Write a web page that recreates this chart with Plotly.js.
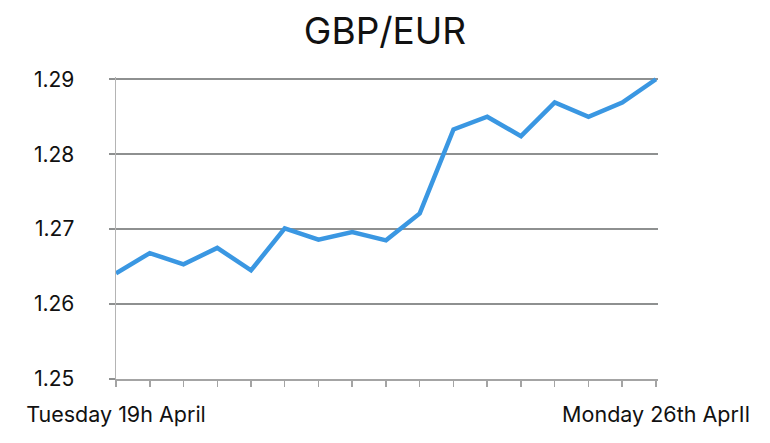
<!DOCTYPE html>
<html>
<head>
<meta charset="utf-8">
<script src="https://cdn.plot.ly/plotly-3.0.1.min.js"></script>
<style>
  html, body { margin: 0; padding: 0; background: #fff; }
  #chart { width: 770px; height: 443px; }
</style>
</head>
<body>
<div id="chart"></div>
<script>
// GBP/EUR rate, one reading per tick
var idx = [0,1,2,3,4,5,6,7,8,9,10,11,12,13,14,15,16]
var rate = [1.2641,1.2668,1.2653,1.2675,1.2645,1.2701,1.2686,1.2696,1.2685,1.2721,
            1.2833,1.2850,1.2824,1.2869,1.2850,1.2869,1.2900]
// only the end ticks carry a label
var tickLabels = ['Tuesday 19h April','','','','','','','','','','','','','','','','Monday 26th AprIl']
var yTicks = [1.25,1.26,1.27,1.28,1.29]

var line = {
    x: idx,
    y: rate,
    mode: 'lines',
    line: { color: '#3a97e2', width: 4.5 },
    showlegend: false,
    hoverinfo: 'skip'
}

var layout = {
    width: 770,
    height: 443,
    paper_bgcolor: '#ffffff',
    plot_bgcolor: '#ffffff',
    margin: { l: 116, r: 112, t: 77, b: 64 },
    font: { family: 'Inter, Roboto, "Liberation Sans", sans-serif', color: '#111111' },
    title: {
        text: 'GBP/EUR',
        font: { size: 37, family: 'Inter, Roboto, sans-serif', color: '#111111' },
        x: 0.5,
        xanchor: 'center',
        y: 0.93,
        yanchor: 'middle'
    },
    xaxis: {
        range: [0, 16.06],
        tickvals: idx,
        ticktext: tickLabels,
        tickangle: 0,
        showgrid: false,
        zeroline: false,
        showline: true,
        linecolor: '#a4a4a4',
        linewidth: 2,
        ticks: 'outside',
        ticklen: 6,
        tickwidth: 1.5,
        tickcolor: '#a4a4a4',
        ticklabelstandoff: 9,
        tickfont: { size: 21.5, family: 'Inter, Roboto, sans-serif', color: '#111111' }
    },
    yaxis: {
        range: [1.25, 1.2903],
        tickvals: yTicks,
        ticktext: yTicks.map(function (v) { return v.toFixed(2) }),
        showgrid: true,
        gridcolor: '#8e9090',
        gridwidth: 2,
        zeroline: false,
        showline: true,
        linecolor: '#b4b4b4',
        linewidth: 1.5,
        ticks: 'outside',
        ticklen: 6,
        tickwidth: 2,
        tickcolor: '#8e9090',
        ticklabelstandoff: 30,
        tickfont: { size: 21, color: '#111111' }
    }
}

Plotly.newPlot('chart', [line], layout, { displayModeBar: false, staticPlot: true })
</script>
</body>
</html>
